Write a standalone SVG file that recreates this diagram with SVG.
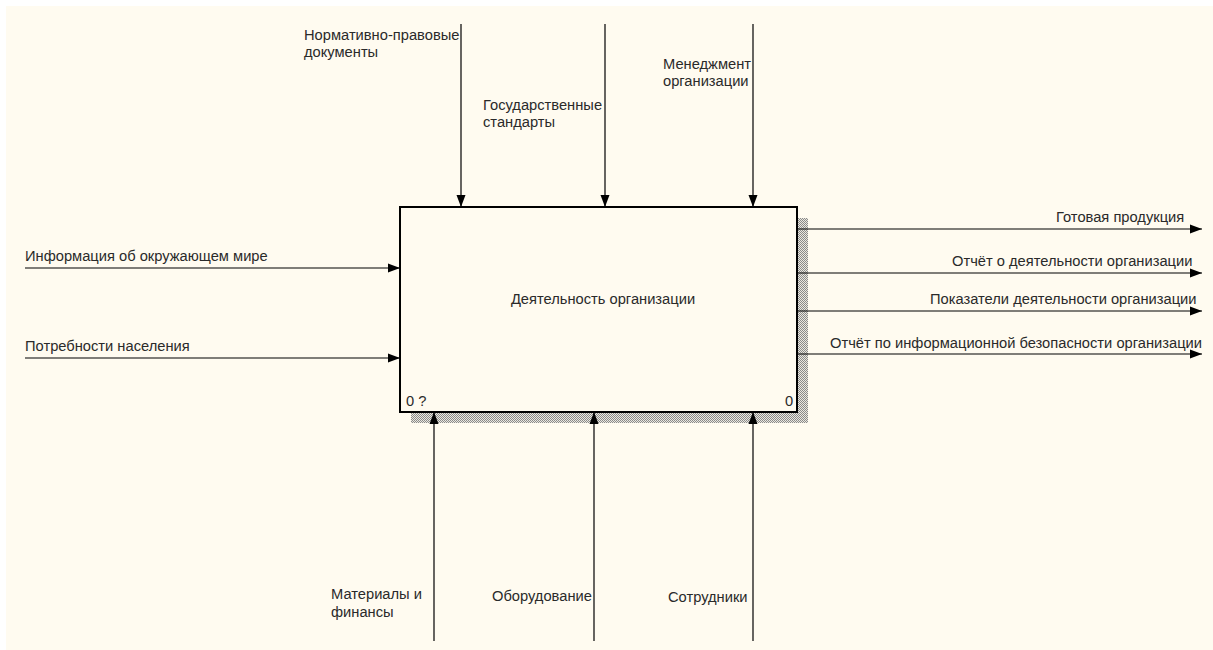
<svg xmlns="http://www.w3.org/2000/svg" width="1213" height="650" viewBox="0 0 1213 650">
<style>
text{font-family:"Liberation Sans",Arial,sans-serif;font-size:14.7px;fill:#2a2a2a}
.ln{stroke:#000;stroke-width:1.2;fill:none;marker-end:url(#ah)}
.box{fill:#fffbf0;stroke:#000;stroke-width:2}
</style>
<defs>
<marker id="ah" markerUnits="userSpaceOnUse" markerWidth="13" markerHeight="10" refX="12" refY="5" orient="auto">
<path d="M0,0.5 L12,5 L0,9.5 Z" fill="#000"/>
</marker>
<pattern id="hatch" width="2" height="2" patternUnits="userSpaceOnUse">
<rect width="2" height="2" fill="#ebe8df"/>
<rect width="1" height="1" fill="#8a8a8a"/>
<rect x="1" y="1" width="1" height="1" fill="#8a8a8a"/>
</pattern>
</defs>
<rect width="1213" height="650" fill="#ffffff"/>
<rect x="6" y="6" width="1207" height="644" fill="#fffbf0"/>
<g id="node-activity">
<rect x="411" y="218" width="397" height="205" fill="url(#hatch)"/>
<rect class="box" x="400" y="207" width="397" height="205"/>
<text x="603" y="304" text-anchor="middle">Деятельность организации</text>
<text x="406" y="406">0 ?</text>
<text x="785" y="406">0</text>
</g>
<g id="connectors">
<line class="ln" x1="461" y1="24" x2="461" y2="207"/>
<line class="ln" x1="605" y1="24" x2="605" y2="207"/>
<line class="ln" x1="753" y1="24" x2="753" y2="207"/>
<line class="ln" x1="434" y1="641" x2="434" y2="412"/>
<line class="ln" x1="594" y1="641" x2="594" y2="412"/>
<line class="ln" x1="753" y1="641" x2="753" y2="412"/>
<line class="ln" x1="25" y1="268" x2="400" y2="268"/>
<line class="ln" x1="25" y1="358" x2="400" y2="358"/>
<line class="ln" x1="797" y1="229" x2="1202" y2="229"/>
<line class="ln" x1="797" y1="273" x2="1202" y2="273"/>
<line class="ln" x1="797" y1="311" x2="1202" y2="311"/>
<line class="ln" x1="797" y1="354" x2="1202" y2="354"/>
</g>
<g id="labels">
<text x="304" y="40">Нормативно-правовые</text>
<text x="304" y="57">документы</text>
<text x="483" y="110">Государственные</text>
<text x="483" y="127">стандарты</text>
<text x="663" y="69">Менеджмент</text>
<text x="663" y="86">организации</text>
<text x="25" y="261">Информация об окружающем мире</text>
<text x="25" y="351">Потребности населения</text>
<text x="1056" y="222">Готовая продукция</text>
<text x="952" y="266">Отчёт о деятельности организации</text>
<text x="930" y="304">Показатели деятельности организации</text>
<text x="830" y="348">Отчёт по информационной безопасности организации</text>
<text x="331" y="599">Материалы и</text>
<text x="331" y="617">финансы</text>
<text x="492" y="601">Оборудование</text>
<text x="668" y="602">Сотрудники</text>
</g>
</svg>
